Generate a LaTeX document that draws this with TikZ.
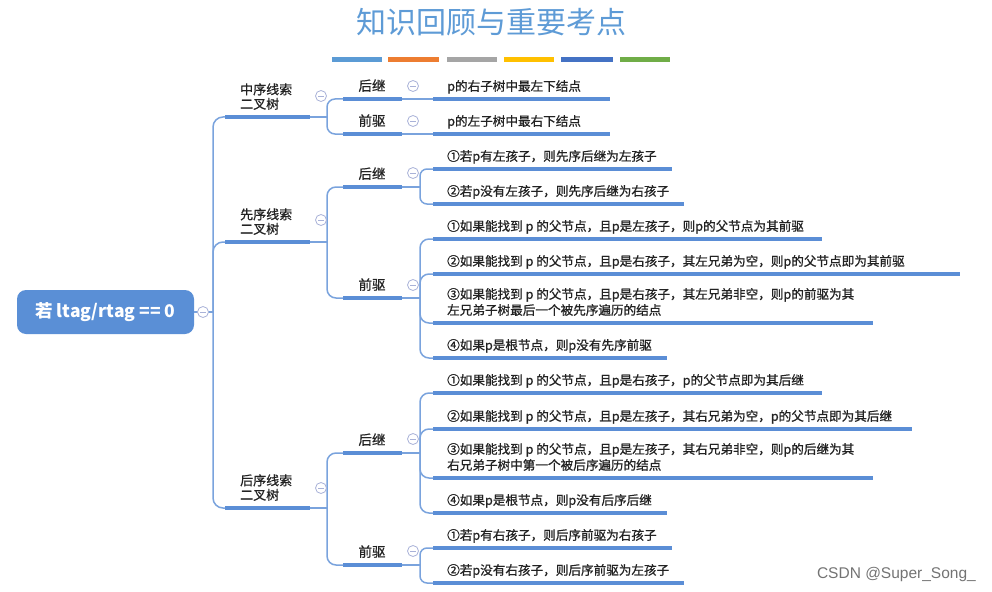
\documentclass[tikz,border=0pt]{standalone}
\usepackage{fontspec}
\setmainfont{Noto Sans CJK SC}
\newfontfamily\cjkb{Noto Sans CJK SC}[FakeBold=0.9]
\newfontfamily\wmfont{Liberation Sans}
\definecolor{ulc}{HTML}{5B8ED6}
\definecolor{cnc}{HTML}{7AA3DD}
\definecolor{circc}{HTML}{A9B2D8}
\definecolor{rootc}{HTML}{5A8FD6}
\definecolor{titlec}{HTML}{5E9BD6}
\definecolor{txtc}{HTML}{222222}
\definecolor{barA}{HTML}{5B9BD5}
\definecolor{barB}{HTML}{ED7D31}
\definecolor{barC}{HTML}{A5A5A5}
\definecolor{barD}{HTML}{FFC000}
\definecolor{barE}{HTML}{4472C4}
\definecolor{barF}{HTML}{70AD47}
\tikzset{
  uline/.style={draw=ulc, line width=3.6pt},
  conn/.style={draw=cnc, line width=1.5pt},
  leaf/.style={font=\cjkb\fontsize{12.6}{16}\selectfont, text=txtc, anchor=south west, inner sep=0pt, align=left, text depth=3pt},
  midtxt/.style={font=\cjkb\fontsize{13.5}{15}\selectfont, text=txtc, anchor=south, inner sep=0pt, text depth=3pt},
  lonetxt/.style={font=\cjkb\fontsize{13}{14.5}\selectfont, text=txtc, anchor=south west, inner sep=0pt, align=left, text depth=3pt},
  collapse/.style={circle, draw=circc, fill=white, line width=0.8pt, minimum size=11pt, inner sep=0pt,
    path picture={\draw[circc, line width=0.9pt] ([xshift=-2.6pt]path picture bounding box.center) -- ([xshift=2.6pt]path picture bounding box.center);}},
  bar/.style={line width=5pt}
}
\newcommand{\mmleaf}[4]{%
  \coordinate (#1s) at (433,#2);
  \coordinate (#1e) at (#3,#2);
  \draw[uline] (#1s) -- (#1e);
  \node[leaf] (#1) at (447,#2-5) {#4};
}
\newcommand{\mmmid}[4]{%
  \coordinate (#1s) at (343,#2);
  \coordinate (#1e) at (402,#2);
  \draw[uline] (#1s) -- (#1e);
  \node[midtxt] (#1) at (372,#2-5) {#3};
  \coordinate (#1c) at (413,#4);
}
\begin{document}
\begin{tikzpicture}[x=1pt,y=-1pt]
\useasboundingbox (0,0) rectangle (992,591);
% title
\node[font=\fontsize{30}{30}\selectfont, text=titlec, inner sep=0pt] (title) at (491,22) {知识回顾与重要考点};
\draw[bar, barA] (332,60) -- (382,60);
\draw[bar, barB] (388,60) -- (439,60);
\draw[bar, barC] (447,60) -- (497,60);
\draw[bar, barD] (504,60) -- (554,60);
\draw[bar, barE] (561,60) -- (613,60);
\draw[bar, barF] (620,60) -- (670,60);

% root
\node[fill=rootc, rounded corners=9pt, minimum width=177pt, minimum height=44pt, inner sep=0pt,
  text=white, font=\fontsize{17.5}{18}\selectfont\bfseries] (root) at (105.5,312) {若 ltag/rtag == 0};
\coordinate (s1) at (213,312);

% level 1
\coordinate (zxs) at (225,117); \coordinate (zxe) at (310,117);
\coordinate (xxs) at (225,242); \coordinate (xxe) at (310,242);
\coordinate (hxs) at (225,508); \coordinate (hxe) at (310,508);
\draw[conn] (root.east) -- (s1);
\draw[conn, rounded corners=10pt] (zxs) -| (s1) |- (hxs);
\draw[conn, rounded corners=10pt] (s1) |- (xxs);
\draw[uline] (zxs) -- (zxe);
\draw[uline] (xxs) -- (xxe);
\draw[uline] (hxs) -- (hxe);
\node[lonetxt] (zx) at (240,112) {中序线索\\二叉树};
\node[lonetxt] (xx) at (240,237) {先序线索\\二叉树};
\node[lonetxt] (hx) at (240,503) {后序线索\\二叉树};

% level 2
\mmmid{zxh}{99}{后继}{86}
\mmmid{zxq}{134}{前驱}{121}
\mmmid{xxh}{187}{后继}{173}
\mmmid{xxq}{298}{前驱}{285}
\mmmid{hxh}{453}{后继}{439}
\mmmid{hxq}{565}{前驱}{551}
\coordinate (zxb) at (327,117);
\coordinate (xxb) at (327,242);
\coordinate (hxb) at (327,508);
\draw[conn, rounded corners=8pt] (zxhs) -| (zxb) |- (zxqs);
\draw[conn] (zxe) -- (zxb);
\draw[conn, rounded corners=9pt] (xxhs) -| (xxb) |- (xxqs);
\draw[conn] (xxe) -- (xxb);
\draw[conn, rounded corners=9pt] (hxhs) -| (hxb) |- (hxqs);
\draw[conn] (hxe) -- (hxb);

% level 3 leaves
\mmleaf{aa}{99}{610}{p的右子树中最左下结点}
\mmleaf{ab}{134}{610}{p的左子树中最右下结点}
\mmleaf{ba}{169}{672}{①若p有左孩子，则先序后继为左孩子}
\mmleaf{bb}{204}{684}{②若p没有左孩子，则先序后继为右孩子}
\mmleaf{ca}{239}{822}{①如果能找到 p 的父节点，且p是左孩子，则p的父节点为其前驱}
\mmleaf{cb}{274}{960}{②如果能找到 p 的父节点，且p是右孩子，其左兄弟为空，则p的父节点即为其前驱}
\mmleaf{cc}{323}{873}{③如果能找到 p 的父节点，且p是右孩子，其左兄弟非空，则p的前驱为其\\左兄弟子树最后一个被先序遍历的结点}
\mmleaf{cd}{358}{667}{④如果p是根节点，则p没有先序前驱}
\mmleaf{da}{393}{822}{①如果能找到 p 的父节点，且p是右孩子，p的父节点即为其后继}
\mmleaf{db}{429}{912}{②如果能找到 p 的父节点，且p是左孩子，其右兄弟为空，p的父节点即为其后继}
\mmleaf{dc}{478}{873}{③如果能找到 p 的父节点，且p是左孩子，其右兄弟非空，则p的后继为其\\右兄弟子树中第一个被后序遍历的结点}
\mmleaf{dd}{513}{667}{④如果p是根节点，则p没有后序后继}
\mmleaf{ea}{548}{672}{①若p有右孩子，则后序前驱为右孩子}
\mmleaf{eb}{583}{684}{②若p没有右孩子，则后序前驱为左孩子}

% level 2 -> level 3 connectors
\draw[conn] (zxhe) -- (aas);
\draw[conn] (zxqe) -- (abs);
\coordinate (xxhb) at (420,187);
\coordinate (xxqb) at (420,298);
\coordinate (hxhb) at (420,453);
\coordinate (hxqb) at (420,565);
\draw[conn, rounded corners=7pt] (bas) -| (xxhb) |- (bbs);
\draw[conn] (xxhe) -- (xxhb);
\draw[conn, rounded corners=9pt] (cas) -| (xxqb) |- (cds);
\draw[conn, rounded corners=9pt] (xxqb) |- (cbs);
\draw[conn, rounded corners=9pt] (xxqb) |- (ccs);
\draw[conn] (xxqe) -- (xxqb);
\draw[conn, rounded corners=9pt] (das) -| (hxhb) |- (dds);
\draw[conn, rounded corners=9pt] (hxhb) |- (dbs);
\draw[conn, rounded corners=9pt] (hxhb) |- (dcs);
\draw[conn] (hxhe) -- (hxhb);
\draw[conn, rounded corners=7pt] (eas) -| (hxqb) |- (ebs);
\draw[conn] (hxqe) -- (hxqb);

% collapse markers
\node[collapse] (rootcm) at (203,312) {};
\node[collapse] (zxcm) at (321,96) {};
\node[collapse] (xxcm) at (321,220) {};
\node[collapse] (hxcm) at (321,488) {};
\node[collapse] (zxhcm) at (zxhc) {};
\node[collapse] (zxqcm) at (zxqc) {};
\node[collapse] (xxhcm) at (xxhc) {};
\node[collapse] (xxqcm) at (xxqc) {};
\node[collapse] (hxhcm) at (hxhc) {};
\node[collapse] (hxqcm) at (hxqc) {};

% watermark
\node[font=\wmfont\fontsize{15.5}{16}\selectfont, text=black!55, anchor=base east, inner sep=0pt] (wm) at (976,578) {CSDN @Super\_Song\_};
\end{tikzpicture}
\end{document}
